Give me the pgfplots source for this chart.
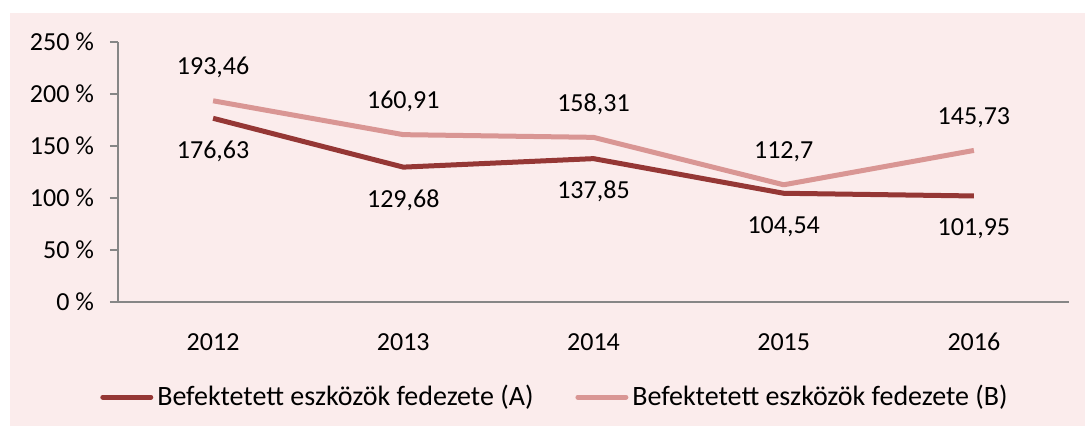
\documentclass[border=0pt]{standalone}
\usepackage{pgfplots}
\pgfplotsset{compat=1.18}
\usepackage{fontspec}
\setmainfont{Carlito}
\definecolor{bgpink}{HTML}{FBECEC}
\definecolor{darkred}{HTML}{953735}
\definecolor{lightred}{HTML}{D99694}
\definecolor{axisgray}{HTML}{868686}
\begin{document}
\begin{tikzpicture}[font=\fontsize{13}{16}\selectfont]
\path[use as bounding box, fill=white] (0,0) rectangle (542.5pt,213pt);
\fill[bgpink] (5pt,0) rectangle (542.5pt,206.5pt);
\begin{axis}[
  at={(59pt,62pt)}, anchor=south west,
  scale only axis, width=475.5pt, height=130pt,
  xmin=-0.5, xmax=4.5, ymin=0, ymax=250,
  axis x line*=bottom, axis y line*=left,
  axis line style={axisgray, line width=0.8pt},
  tick align=outside,
  xtick={0,1,2,3,4},
  xticklabels={2012,2013,2014,2015,2016},
  x tick style={draw=none},
  minor xtick={-0.5,0.5,1.5,2.5,3.5,4.5},
  minor x tick style={axisgray, line width=0.8pt},
  minor tick length=3.5pt,
  major tick length=4pt,
  y tick style={axisgray, line width=0.8pt},
  ytick={0,50,100,150,200,250},
  yticklabels={0 \%,50 \%,100 \%,150 \%,200 \%,250 \%},
  yticklabel style={xshift=-4.5pt},
  xticklabel style={anchor=center, yshift=-16pt},
  point meta=explicit symbolic,
  nodes near coords,
  legend style={draw=none, fill=none, at={(0.4605,-0.366)}, anchor=center,
    legend columns=2, /tikz/every even column/.append style={column sep=19pt},
    font=\fontsize{14}{17}\selectfont},
  legend image code/.code={\draw[#1, line width=2.5pt, line cap=round] (0pt,0pt) -- (24pt,0pt);},
  clip=false,
]
\addplot[darkred, line width=2.5pt, line join=round, mark=none,
  every node near coord/.append style={anchor=center, yshift=-16.5pt, text=black}]
  coordinates {(0,176.63) [176,63] (1,129.68) [129,68] (2,137.85) [137,85] (3,104.54) [104,54] (4,101.95) [101,95]};
\addlegendentry{Befektetett eszközök fedezete (A)}
\addplot[lightred, line width=2.5pt, line join=round, mark=none,
  every node near coord/.append style={anchor=center, yshift=16.5pt, text=black}]
  coordinates {(0,193.46) [193,46] (1,160.91) [160,91] (2,158.31) [158,31] (3,112.7) [112,7] (4,145.73) [145,73]};
\addlegendentry{Befektetett eszközök fedezete (B)}
\end{axis}
\end{tikzpicture}
\end{document}
